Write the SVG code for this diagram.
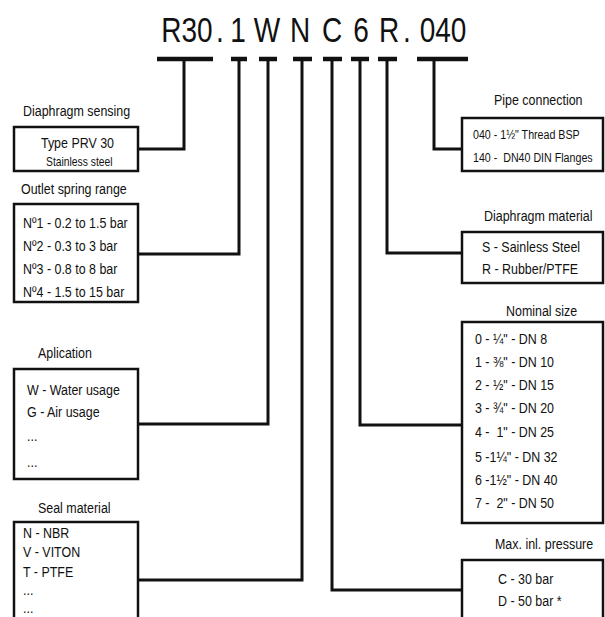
<svg xmlns="http://www.w3.org/2000/svg" width="605" height="617" viewBox="0 0 605 617">
<style>
text{font-family:"Liberation Sans",Arial,sans-serif;fill:#111;white-space:pre;}
.t{font-size:15px;}
.s{font-size:13.6px;}
.p{font-size:13.5px;}
.title{font-size:35px;text-anchor:middle;}
.box{fill:#fff;stroke:#111;stroke-width:2.5;}
.c{fill:none;stroke:#111;stroke-width:3;stroke-linejoin:miter;}
.bar{stroke:#111;stroke-width:4.5;}
</style>
<rect width="605" height="617" fill="#fff"/>
<g id="code">
<text class="title" transform="translate(187 42) scale(.8 1)">R30</text>
<text class="title" transform="translate(220 42) scale(.8 1)">.</text>
<text class="title" transform="translate(238 42) scale(.8 1)">1</text>
<text class="title" transform="translate(267 42) scale(.8 1)">W</text>
<text class="title" transform="translate(300 42) scale(.8 1)">N</text>
<text class="title" transform="translate(332 42) scale(.8 1)">C</text>
<text class="title" transform="translate(361 42) scale(.8 1)">6</text>
<text class="title" transform="translate(389 42) scale(.8 1)">R</text>
<text class="title" transform="translate(407 42) scale(.8 1)">.</text>
<text class="title" transform="translate(443 42) scale(.8 1)">040</text>
</g>
<g id="connectors">
<line class="bar" x1="157" y1="59" x2="213" y2="59"/>
<line class="bar" x1="231" y1="59" x2="247" y2="59"/>
<line class="bar" x1="259" y1="59" x2="277" y2="59"/>
<line class="bar" x1="293" y1="59" x2="312" y2="59"/>
<line class="bar" x1="323" y1="59" x2="342" y2="59"/>
<line class="bar" x1="351" y1="59" x2="369" y2="59"/>
<line class="bar" x1="378" y1="59" x2="397" y2="59"/>
<line class="bar" x1="417" y1="59" x2="468" y2="59"/>
<polyline class="c" points="184,59 184,149 138,149"/>
<polyline class="c" points="239,59 239,254 138,254"/>
<polyline class="c" points="268,59 268,424 138,424"/>
<polyline class="c" points="302,59 302,580 138,580"/>
<polyline class="c" points="332,59 332,590 462,590"/>
<polyline class="c" points="360,59 360,425 462,425"/>
<polyline class="c" points="387,59 387,253 462,253"/>
<polyline class="c" points="434,59 434,149 462,149"/>
</g>
<g id="diaphragm-sensing">
<text class="t" transform="translate(23 116) scale(.83 1)">Diaphragm sensing</text>
<rect class="box" x="14" y="127" width="124" height="44"/>
<text class="t" transform="translate(41 148) scale(.83 1)">Type PRV 30</text>
<text class="s" transform="translate(46 166) scale(.76 1)">Stainless steel</text>
</g>
<g id="outlet-spring-range">
<text class="t" transform="translate(21 194) scale(.83 1)">Outlet spring range</text>
<rect class="box" x="14" y="204" width="124" height="98"/>
<text class="t" transform="translate(23 228) scale(.83 1)">Nº1 - 0.2 to 1.5 bar</text>
<text class="t" transform="translate(23 251) scale(.83 1)">Nº2 - 0.3 to 3 bar</text>
<text class="t" transform="translate(23 274) scale(.83 1)">Nº3 - 0.8 to 8 bar</text>
<text class="t" transform="translate(23 297) scale(.83 1)">Nº4 - 1.5 to 15 bar</text>
</g>
<g id="aplication">
<text class="t" transform="translate(38 358) scale(.83 1)">Aplication</text>
<rect class="box" x="14" y="369" width="124" height="110"/>
<text class="t" transform="translate(27 395) scale(.83 1)">W - Water usage</text>
<text class="t" transform="translate(27 417) scale(.83 1)">G - Air usage</text>
<text class="t" transform="translate(27 441) scale(.83 1)">...</text>
<text class="t" transform="translate(27 467) scale(.83 1)">...</text>
</g>
<g id="seal-material">
<text class="t" transform="translate(38 513) scale(.83 1)">Seal material</text>
<rect class="box" x="14" y="522" width="124" height="110"/>
<text class="t" transform="translate(23 538) scale(.83 1)">N - NBR</text>
<text class="t" transform="translate(23 557) scale(.83 1)">V - VITON</text>
<text class="t" transform="translate(23 577) scale(.83 1)">T - PTFE</text>
<text class="t" transform="translate(23 595) scale(.83 1)">...</text>
<text class="t" transform="translate(23 613) scale(.83 1)">...</text>
</g>
<g id="pipe-connection">
<text class="t" transform="translate(494 105) scale(.83 1)">Pipe connection</text>
<rect class="box" x="462" y="118" width="141" height="53"/>
<text class="p" transform="translate(473 139) scale(.79 1)">040 - 1½" Thread BSP</text>
<text class="p" transform="translate(473 162) scale(.79 1)">140 -  DN40 DIN Flanges</text>
</g>
<g id="diaphragm-material">
<text class="t" transform="translate(484 221) scale(.83 1)">Diaphragm material</text>
<rect class="box" x="462" y="232" width="141" height="51"/>
<text class="t" transform="translate(482 252) scale(.83 1)">S - Sainless Steel</text>
<text class="t" transform="translate(482 274) scale(.83 1)">R - Rubber/PTFE</text>
</g>
<g id="nominal-size">
<text class="t" transform="translate(506 316) scale(.83 1)">Nominal size</text>
<rect class="box" x="462" y="322" width="141" height="201"/>
<text class="t" transform="translate(475 344) scale(.83 1)">0 - ¼" - DN 8</text>
<text class="t" transform="translate(475 367) scale(.83 1)">1 - ⅜" - DN 10</text>
<text class="t" transform="translate(475 390) scale(.83 1)">2 - ½" - DN 15</text>
<text class="t" transform="translate(475 413) scale(.83 1)">3 - ¾" - DN 20</text>
<text class="t" transform="translate(475 437) scale(.83 1)">4 -  1" - DN 25</text>
<text class="t" transform="translate(475 462) scale(.83 1)">5 -1¼" - DN 32</text>
<text class="t" transform="translate(475 485) scale(.83 1)">6 -1½" - DN 40</text>
<text class="t" transform="translate(475 508) scale(.83 1)">7 -  2" - DN 50</text>
</g>
<g id="max-inlet-pressure">
<text class="t" transform="translate(495 549) scale(.83 1)">Max. inl. pressure</text>
<rect class="box" x="462" y="560" width="141" height="80"/>
<text class="t" transform="translate(498 584) scale(.83 1)">C - 30 bar</text>
<text class="t" transform="translate(498 606) scale(.83 1)">D - 50 bar *</text>
</g>
</svg>
